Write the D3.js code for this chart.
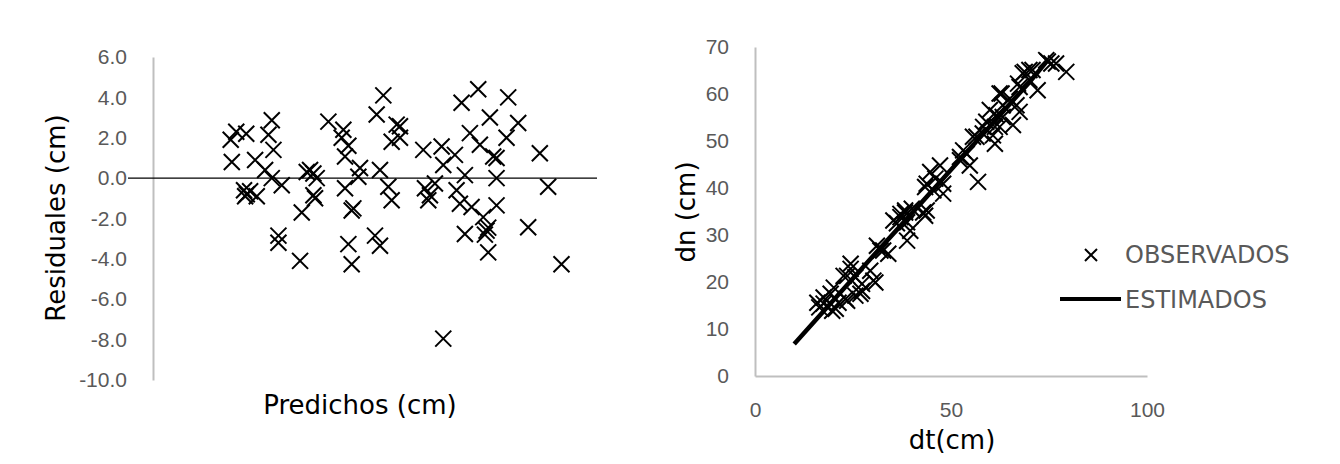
<!DOCTYPE html>
<html>
<head>
<meta charset="utf-8">
<script src="https://cdn.jsdelivr.net/npm/d3@7"></script>
<style>
  body { margin: 0; background: #fff; }
  svg { display: block; font-family: "DejaVu Sans", Verdana, sans-serif; }
  .axis path { stroke: #bfbfbf; stroke-width: 2; }
  .axis text { fill: #595959; font-size: 21px; }
</style>
</head>
<body>
<svg id="chart" width="1340" height="464"></svg>
<script>
// left panel: residuals vs predicted
const predichos = [41.5, 40.3, 21.4, 31.6, 14.0, 15.0, 16.8, 20.8, 34.3, 34.0, 35.2, 43.0, 43.9, 44.5, 44.5,
  21.7, 14.2, 18.4, 34.6, 20.2, 28.3, 28.9, 27.7, 37.3, 37.0, 40.9, 21.4, 23.2, 29.5, 16.4, 16.9, 17.5,
  16.6, 18.7, 34.6, 42.4, 43.0, 28.9, 29.2, 35.8, 36.1, 26.8, 22.6, 22.6, 40.0, 40.9, 35.2, 26.5, 35.8,
  58.6, 55.6, 64.0, 60.7, 65.8, 57.1, 63.7, 48.7, 52.0, 54.4, 58.9, 61.3, 61.9, 69.7, 52.3, 56.2, 61.9,
  71.2, 49.0, 49.9, 50.8, 49.6, 54.7, 55.3, 57.4, 59.5, 61.9, 56.2, 60.1, 60.4, 59.8, 67.6, 60.4, 73.6, 52.3];
const residuales = [4.1, 3.15, 2.87, 2.8, 1.9, 2.3, 2.2, 2.15, 2.4, 2.0, 1.6, 1.8, 2.65, 2.57, 2.0,
  1.4, 0.8, 0.9, 1.07, 0.4, 0.4, 0.23, 0.3, 0.5, 0.07, 0.4, 0.0, -0.35, 0.0, -0.6, -0.8, -0.65,
  -0.9, -0.9, -0.5, -0.43, -1.1, -0.85, -1.0, -1.6, -1.5, -1.7, -2.85, -3.2, -2.85, -3.35, -3.27, -4.1, -4.27,
  4.4, 3.73, 4.0, 3.0, 2.73, 2.23, 2.0, 1.4, 1.57, 1.15, 1.65, 1.07, 1.0, 1.23, 0.65, 0.15, 0.0,
  -0.43, -0.5, -0.85, -0.27, -1.1, -0.6, -1.27, -1.43, -1.93, -1.35, -2.77, -2.6, -2.45, -2.8, -2.43, -3.68, -4.27, -7.95];
const resTicks = [6, 4, 2, 0, -2, -4, -6, -8, -10];

// right panel: observed and estimated dn vs dt
const obsDt = [15.9, 16.4, 17.5, 17.5, 19.3, 19.7, 20.1, 20.6, 21.3, 22.6, 23.1, 23.5, 23.5, 24.4, 24.4,
  25.6, 25.6, 26.9, 27.3, 27.3, 29.4, 30.2, 30.7, 31.1, 32.0, 32.7, 34.0, 35.3, 36.2, 37.1, 37.1, 38.3,
  38.3, 38.8, 38.8, 39.6, 40.0, 42.9, 43.4, 43.8, 43.4, 43.8, 44.7, 45.5, 46.0, 47.2, 48.0, 48.0, 52.3,
  52.3, 53.1, 54.0, 54.8, 55.6, 56.5, 56.9, 58.1, 58.2, 59.0, 59.9, 60.7, 61.2, 61.2, 61.6, 62.4, 62.4,
  62.9, 63.2, 63.2, 65.0, 65.8, 66.7, 67.1, 67.5, 67.5, 68.3, 68.8, 70.0, 70.0, 70.8, 72.1, 74.3, 74.7,
  75.6, 76.8, 79.4];
const obsDn = [15.6, 14.6, 16.7, 15.4, 17.5, 13.9, 18.8, 14.3, 15.6, 21.3, 16.4, 16.0, 21.3, 23.9, 22.8,
  21.0, 17.1, 17.5, 18.1, 19.6, 22.4, 20.3, 19.9, 27.7, 26.7, 26.7, 26.0, 33.1, 32.5, 33.8, 34.5, 34.8,
  35.2, 32.7, 28.8, 30.9, 35.6, 34.8, 34.1, 35.2, 40.2, 40.9, 43.4, 39.5, 42.0, 44.8, 40.9, 38.8, 45.9,
  46.6, 48.0, 47.3, 44.8, 50.9, 50.9, 41.3, 51.6, 53.0, 54.1, 56.6, 51.2, 49.4, 53.0, 55.5, 53.0, 60.1,
  60.1, 57.6, 55.1, 59.0, 53.4, 57.6, 62.2, 56.2, 61.5, 64.4, 64.7, 63.0, 65.1, 65.1, 60.8, 67.2, 66.9,
  66.5, 66.5, 64.7];
const estDt = [10.0, 20.0, 30.0, 40.0, 50.0, 60.0, 70.0, 74.6];
const estDn = [6.8, 16.1, 25.4, 34.6, 43.9, 53.2, 62.5, 67.1];
const dnTicks = [0, 10, 20, 30, 40, 50, 60, 70];
const dtTicks = [0, 50, 100];

const svg = d3.select("#chart");
const cross = r => `M${-r},${-r}L${r},${r}M${-r},${r}L${r},${-r}`;

// ---------- left chart ----------
const xRes = d3.scaleLinear().domain([0, 80]).range([153, 597]);
const yRes = d3.scaleLinear().domain([-10, 6]).range([380, 57]);

const yResAxis = d3.axisLeft(yRes).tickValues(resTicks)
  .tickFormat(d => d.toFixed(1)).tickSize(0).tickPadding(26);
svg.append("g").attr("class", "axis")
  .attr("transform", "translate(153,0)")
  .call(yResAxis);

// horizontal zero line
svg.append("line")
  .attr("x1", xRes(0) - 25).attr("x2", xRes(80))
  .attr("y1", yRes(0)).attr("y2", yRes(0))
  .attr("stroke", "#000").attr("stroke-width", 1.3);

svg.append("g").selectAll("path")
  .data(d3.range(predichos.length))
  .join("path")
  .attr("transform", i => `translate(${xRes(predichos[i])},${yRes(residuales[i])})`)
  .attr("d", cross(8))
  .attr("stroke", "#000").attr("stroke-width", 2).attr("fill", "none");

svg.append("text")
  .attr("transform", "translate(56,218) rotate(-90)")
  .attr("text-anchor", "middle").attr("dy", "0.35em")
  .style("font-size", "26px").attr("fill", "#000")
  .text("Residuales (cm)");

svg.append("text")
  .attr("x", 360).attr("y", 405)
  .attr("text-anchor", "middle").attr("dy", "0.35em")
  .style("font-size", "26px").attr("fill", "#000")
  .text("Predichos (cm)");

// ---------- right chart ----------
const xDt = d3.scaleLinear().domain([0, 100]).range([755, 1147]);
const yDn = d3.scaleLinear().domain([0, 70]).range([376, 47]);

svg.append("g").attr("class", "axis")
  .attr("transform", "translate(755,0)")
  .call(d3.axisLeft(yDn).tickValues(dnTicks).tickSize(0).tickPadding(26));

svg.append("g").attr("class", "axis")
  .attr("transform", "translate(0,376)")
  .call(d3.axisBottom(xDt).tickValues(dtTicks).tickSize(0).tickPadding(26));

svg.append("path")
  .datum(d3.range(estDt.length))
  .attr("d", d3.line().x(i => xDt(estDt[i])).y(i => yDn(estDn[i])))
  .attr("stroke", "#000").attr("stroke-width", 4.5).attr("fill", "none");

svg.append("g").selectAll("path")
  .data(d3.range(obsDt.length))
  .join("path")
  .attr("transform", i => `translate(${xDt(obsDt[i])},${yDn(obsDn[i])})`)
  .attr("d", cross(8))
  .attr("stroke", "#000").attr("stroke-width", 2).attr("fill", "none");

svg.append("text")
  .attr("transform", "translate(686,212) rotate(-90)")
  .attr("text-anchor", "middle").attr("dy", "0.35em")
  .style("font-size", "26px").attr("fill", "#000")
  .text("dn (cm)");

svg.append("text")
  .attr("x", 952).attr("y", 440)
  .attr("text-anchor", "middle").attr("dy", "0.35em")
  .style("font-size", "26px").attr("fill", "#000")
  .text("dt(cm)");

// legend
const legend = svg.append("g");
legend.append("path")
  .attr("transform", "translate(1091,255)")
  .attr("d", cross(6))
  .attr("stroke", "#000").attr("stroke-width", 2).attr("fill", "none");
legend.append("text")
  .attr("x", 1125).attr("y", 255).attr("dy", "0.35em")
  .style("font-size", "24px").attr("fill", "#595959")
  .text("OBSERVADOS");
legend.append("line")
  .attr("x1", 1060).attr("x2", 1121).attr("y1", 299).attr("y2", 299)
  .attr("stroke", "#000").attr("stroke-width", 4);
legend.append("text")
  .attr("x", 1125).attr("y", 300).attr("dy", "0.35em")
  .style("font-size", "24px").attr("fill", "#595959")
  .text("ESTIMADOS");
</script>
</body>
</html>
